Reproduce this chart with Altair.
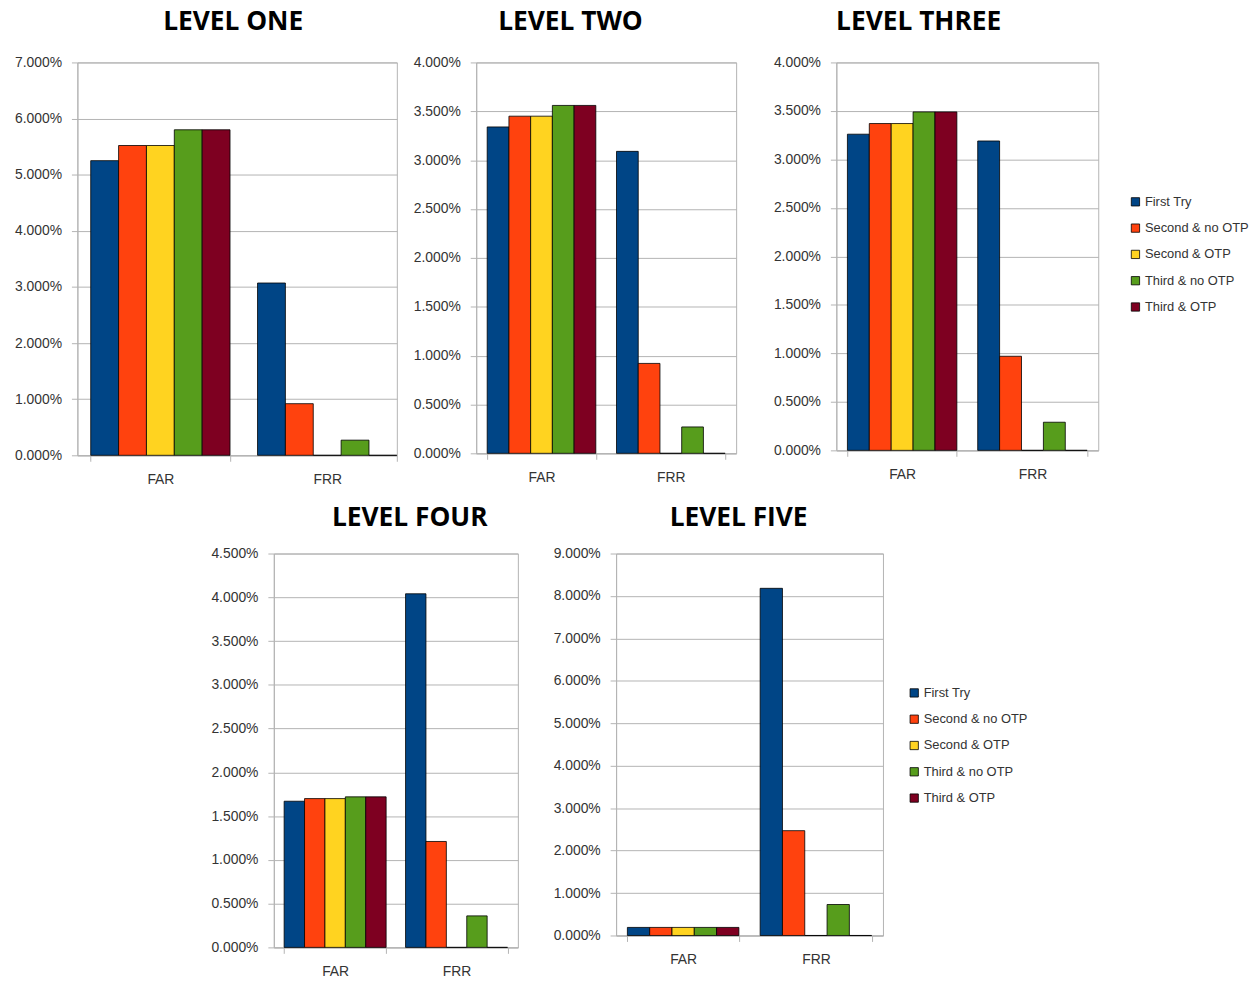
import altair as alt
import pandas as pd

series = ["First Try", "Second & no OTP", "Second & OTP", "Third & no OTP", "Third & OTP"]
colors = ["#004586", "#FF420E", "#FFD320", "#579D1C", "#7E0021"]
metrics = ["FAR", "FRR"]

level1_far = [5.25, 5.52, 5.52, 5.80, 5.80]
level1_frr = [3.07, 0.92, 0.0, 0.27, 0.0]
level2_far = [3.34, 3.45, 3.45, 3.56, 3.56]
level2_frr = [3.09, 0.92, 0.0, 0.27, 0.0]
level3_far = [3.26, 3.37, 3.37, 3.49, 3.49]
level3_frr = [3.19, 0.97, 0.0, 0.29, 0.0]
level4_far = [1.67, 1.70, 1.70, 1.72, 1.72]
level4_frr = [4.04, 1.21, 0.0, 0.36, 0.0]
level5_far = [0.19, 0.19, 0.19, 0.19, 0.19]
level5_frr = [8.18, 2.47, 0.0, 0.73, 0.0]

titles = ["LEVEL ONE", "LEVEL TWO", "LEVEL THREE", "LEVEL FOUR", "LEVEL FIVE"]
y_max = [7.0, 4.0, 4.0, 4.5, 9.0]
y_step = [1.0, 0.5, 0.5, 0.5, 1.0]

GRID = "#b3b3b3"
LABEL = "#333333"


def make_df(far, frr):
    rows = []
    for m, vals in zip(metrics, [far, frr]):
        for s, v in zip(series, vals):
            rows.append({"metric": m, "series": s, "value": v / 100.0})
    return pd.DataFrame(rows)


def panel(far, frr, title, ymax, ystep, width, height, title_dx, legend=None,
          pad_inner=0.16, pad_outer=0.085, align=0.5, title_offset=20):
    df = make_df(far, frr)
    n = int(round(ymax / ystep))
    ticks = [round(i * ystep / 100.0, 6) for i in range(n + 1)]
    if legend is None:
        leg = None
    else:
        leg = alt.Legend(
            title=None, orient="none", legendX=legend[0], legendY=legend[1],
            labelFont="Liberation Sans", labelFontSize=13, labelColor=LABEL,
            symbolType="square", symbolSize=70, symbolStrokeColor="black",
            symbolStrokeWidth=0.8, rowPadding=12.5, labelOffset=3,
        )
    return alt.Chart(df).mark_bar(stroke="black", strokeWidth=0.8).encode(
        x=alt.X("metric:N", sort=metrics, title=None,
                scale=alt.Scale(paddingInner=pad_inner, paddingOuter=pad_outer, align=align),
                axis=alt.Axis(labelAngle=0, labelFont="Liberation Sans", labelFontSize=14,
                              labelColor=LABEL, labelPadding=11, tickBand="extent",
                              tickSize=6, tickColor=GRID, domainColor=GRID, grid=False)),
        xOffset=alt.XOffset("series:N", sort=series, scale=alt.Scale(paddingInner=0, paddingOuter=0)),
        y=alt.Y("value:Q", title=None,
                scale=alt.Scale(domain=[0, ymax / 100.0], nice=False, zero=True),
                axis=alt.Axis(values=ticks, format=".3%", labelFont="Liberation Sans",
                              labelFontSize=14, labelColor=LABEL, labelPadding=10,
                              tickSize=6, tickColor=GRID, domainColor=GRID,
                              gridColor=GRID, gridWidth=1)),
        color=alt.Color("series:N", sort=series,
                        scale=alt.Scale(domain=series, range=colors), legend=leg),
    ).properties(
        width=width, height=height,
        title=alt.TitleParams(title, font="Open Sans", fontSize=26.5, fontWeight="bold",
                              color="black", anchor="middle", dx=title_dx, offset=title_offset),
        view=alt.ViewBackground(stroke=GRID),
    )


p1 = panel(level1_far, level1_frr, titles[0], y_max[0], y_step[0], 322, 396, -4,
           pad_inner=0.165, pad_outer=0.04, align=1)
p2 = panel(level2_far, level2_frr, titles[1], y_max[1], y_step[1], 262, 394, -36)
p3 = panel(level3_far, level3_frr, titles[2], y_max[2], y_step[2], 264, 391, -49,
           legend=(295, 134))
p4 = panel(level4_far, level4_frr, titles[3], y_max[3], y_step[3], 246, 397, 14,
           title_offset=15)
p5 = panel(level5_far, level5_frr, titles[4], y_max[4], y_step[4], 269, 385, -11,
           legend=(294, 134), title_offset=15)

spacer = alt.Chart(pd.DataFrame({"a": [0]})).mark_point(opacity=0).encode(
    x=alt.value(0), y=alt.value(0)
).properties(width=104, height=10, view=alt.ViewBackground(stroke=None))


def indep(c):
    return c.resolve_scale(color="independent", xOffset="independent", x="independent",
                           y="independent").resolve_legend(color="independent")


top = indep(alt.hconcat(indep(alt.hconcat(p1, p2, spacing=15)), p3, spacing=36))
bottom = indep(alt.hconcat(spacer, indep(alt.hconcat(p4, p5, spacing=34)), spacing=30))

chart = indep(alt.vconcat(top, bottom, spacing=18)).properties(
    padding={"left": 14, "top": 5, "right": 5, "bottom": 5},
    background="white",
)

chart.save("out.html", embed_options={"renderer": "svg", "actions": False})
